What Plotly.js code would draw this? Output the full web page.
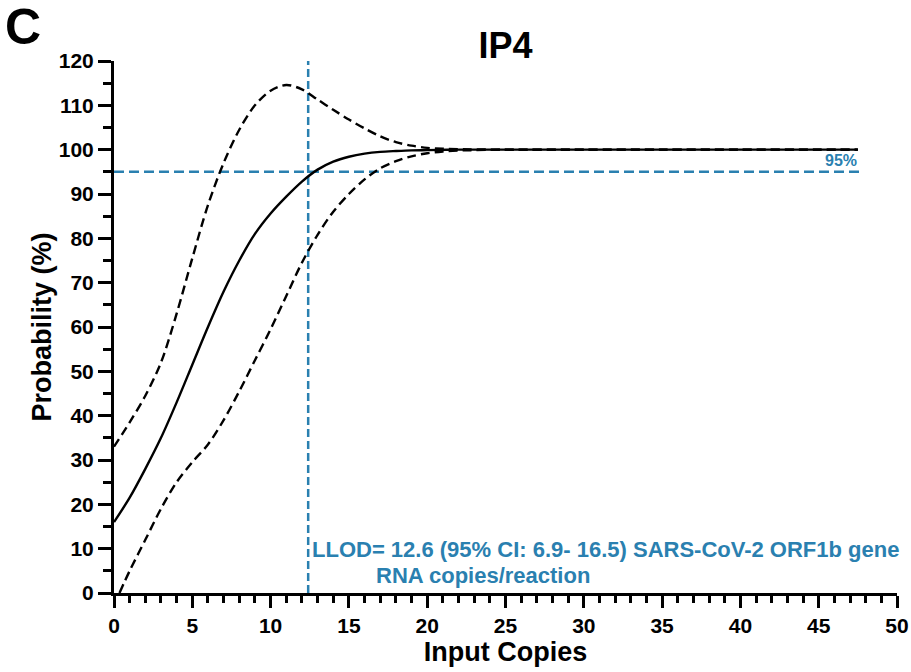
<!DOCTYPE html>
<html>
<head>
<meta charset="utf-8">
<script src="https://cdn.plot.ly/plotly-3.0.1.min.js"></script>
<style>
  html, body { margin: 0; padding: 0; background: #fff; }
  #chart { width: 911px; height: 672px; }
</style>
</head>
<body>
<div id="chart"></div>
<script>
// ---- data ----
const fitX   = [0,1,2,3,4,5,6,7,8,9,10,11,12,13,14,15,16,17,18,19,20,22,25,30,35,40,45,47.5];
const fitY   = [16,21.5,28,35,43,51.5,60,68,75,81,85.6,89.4,92.8,95.5,97.3,98.4,99.1,99.5,99.7,99.85,99.9,100,100,100,100,100,100,100];

const upperX = [0,1,2,3,4,5,6,7,8,9,10,11,12,13,14,15,16,17,18,19,20,21,22,25,30,35,40,45,47.5];
const upperY = [33,38.5,44.5,52,63,75.5,87.5,97,104.5,110,113.3,114.6,113.6,111.3,109,106.8,104.8,103,101.7,100.9,100.4,100.2,100.1,100,100,100,100,100,100];

const lowerX = [0.35,1,2,3,4,5,6,7,8,9,10,11,12,13,14,15,16,17,18,19,20,21,22,25,30,35,40,45,47.5];
const lowerY = [0,5,12,19,25,29.5,33.5,39,45.5,52.5,59.5,67,74.5,80.8,86,90,93.3,95.8,97.4,98.5,99.2,99.6,99.8,100,100,100,100,100,100];

const llodX = 12.4;                 // vertical reference line position
const llodY = [0, 120];
const thresholdY = 95;              // 95% probability line
const thresholdX = [0, 47.6];

const xTicks = [0,5,10,15,20,25,30,35,40,45,50];
const yTicks = [0,10,20,30,40,50,60,70,80,90,100,110,120];

const annotLine1 = 'LLOD= 12.6 (95% CI: 6.9- 16.5) SARS-CoV-2 ORF1b gene';
const annotLine2 = 'RNA copies/reaction';

// ---- styles ----
const FONT = 'Liberation Sans, Arial, Helvetica, sans-serif';
const BLUE = '#2a80b0';

const traces = [
  { x: [llodX, llodX], y: llodY, mode: 'lines',
    line: { color: BLUE, width: 2.5, dash: '8px,4px' }, hoverinfo: 'skip' },
  { x: thresholdX, y: [thresholdY, thresholdY], mode: 'lines',
    line: { color: BLUE, width: 2.5, dash: '10px,5px' }, hoverinfo: 'skip' },
  { x: upperX, y: upperY, mode: 'lines',
    line: { color: '#000', width: 2.4, dash: '9px,5px', shape: 'spline', smoothing: 0.9 } },
  { x: lowerX, y: lowerY, mode: 'lines',
    line: { color: '#000', width: 2.4, dash: '9px,5px', shape: 'spline', smoothing: 0.9 } },
  { x: fitX, y: fitY, mode: 'lines',
    line: { color: '#000', width: 2.4, shape: 'spline', smoothing: 0.9 } }
];

const layout = {
  width: 911, height: 672,
  margin: { l: 114, r: 14, t: 61, b: 79 },
  paper_bgcolor: '#fff', plot_bgcolor: '#fff',
  showlegend: false,
  font: { family: FONT, color: '#000' },
  title: { text: 'IP4', x: 0.5, xref: 'paper', y: 1 - 45/672, yanchor: 'middle',
           font: { family: FONT, size: 36, weight: 'bold', color: '#000' } },
  xaxis: {
    range: [0, 50], tickvals: xTicks, ticktext: xTicks.map(String),
    ticks: 'outside', ticklen: 12, tickwidth: 3, tickcolor: '#000',
    minor: { dtick: 1, tick0: 0, ticks: 'outside', ticklen: 7, tickwidth: 3, tickcolor: '#000', showgrid: false },
    showline: true, linewidth: 3, linecolor: '#000',
    showgrid: false, zeroline: false,
    tickfont: { family: FONT, size: 21, weight: 'bold', color: '#000' },
    title: { text: 'Input Copies', standoff: 6,
             font: { family: FONT, size: 27, weight: 'bold', color: '#000' } }
  },
  yaxis: {
    range: [0, 120], tickvals: yTicks, ticktext: yTicks.map(String),
    ticks: 'outside', ticklen: 13, tickwidth: 3, tickcolor: '#000',
    minor: { dtick: 5, tick0: 0, ticks: 'outside', ticklen: 8, tickwidth: 3, tickcolor: '#000', showgrid: false },
    showline: true, linewidth: 3, linecolor: '#000',
    showgrid: false, zeroline: false,
    tickfont: { family: FONT, size: 21, weight: 'bold', color: '#000' },
    title: { text: 'Probability (%)', standoff: 0,
             font: { family: FONT, size: 27, weight: 'bold', color: '#000' } }
  },
  annotations: [
    { text: 'C', xref: 'paper', yref: 'paper', x: (3 - 114) / 783, y: (593 - 27) / 532,
      xanchor: 'left', yanchor: 'middle', showarrow: false,
      font: { family: FONT, size: 50, weight: 'bold', color: '#000' } },
    { text: '95%', xref: 'x', yref: 'y', x: thresholdX[1], y: thresholdY,
      xanchor: 'right', yanchor: 'bottom', yshift: 1, showarrow: false,
      font: { family: FONT, size: 16, weight: 'bold', color: BLUE } },
    { text: annotLine1, xref: 'x', yref: 'y', x: llodX, y: 9.9, xshift: 2,
      xanchor: 'left', yanchor: 'middle', showarrow: false,
      font: { family: FONT, size: 22, weight: 'bold', color: BLUE } },
    { text: annotLine2, xref: 'x', yref: 'y', x: llodX, y: 4.0, xshift: 66,
      xanchor: 'left', yanchor: 'middle', showarrow: false,
      font: { family: FONT, size: 22, weight: 'bold', color: BLUE } }
  ]
};

Plotly.newPlot('chart', traces, layout, { staticPlot: true, displayModeBar: false });
</script>
</body>
</html>
